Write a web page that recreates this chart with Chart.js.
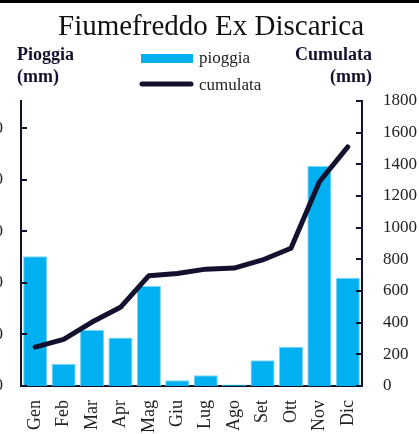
<!DOCTYPE html>
<html>
<head>
<meta charset="utf-8">
<script src="https://cdn.jsdelivr.net/npm/chart.js@4"></script>
<style>
  html, body { margin: 0; padding: 0; background: #fff; }
  #wrap { position: relative; width: 419px; height: 434px; overflow: hidden; }
  #wrap canvas { position: absolute; left: -40px; top: 0; }
  #topline { position: absolute; left: 0; top: 0; width: 419px; height: 3px; background: #000; }
</style>
</head>
<body>
<div id="wrap">
  <canvas id="chart" width="459" height="434"></canvas>
  <div id="topline"></div>
</div>
<script>
const mesi = ['Gen', 'Feb', 'Mar', 'Apr', 'Mag', 'Giu', 'Lug', 'Ago', 'Set', 'Ott', 'Nov', 'Dic'];
const pioggia = [252, 43, 109, 94, 194, 11, 21, 3, 50, 76, 427, 210];
const cumulata = [246, 295, 404, 497, 697, 710, 738, 745, 796, 870, 1290, 1510];
const pioggiaMax = 553, pioggiaStep = 100;
const cumulataMax = 1800, cumulataStep = 200;

const navy = '#14112e';
const blue = '#00b0f0';
const serif = '"Liberation Serif", "DejaVu Serif", serif';

// titles, legend and the small inward tick marks
const decor = {
  id: 'decor',
  afterDraw(chart) {
    const ctx = chart.ctx;
    ctx.save();
    ctx.fillStyle = '#111';
    ctx.textAlign = 'center';
    ctx.textBaseline = 'alphabetic';
    ctx.font = '29px ' + serif;
    ctx.fillText('Fiumefreddo Ex Discarica', 251, 35);

    ctx.fillStyle = navy;
    ctx.font = 'bold 18px ' + serif;
    ctx.textAlign = 'left';
    ctx.fillText('Pioggia', 57, 60);
    ctx.fillText('(mm)', 57, 82);
    ctx.textAlign = 'right';
    ctx.fillText('Cumulata', 412, 60);
    ctx.fillText('(mm)', 412, 82);

    // legend
    ctx.fillStyle = blue;
    ctx.fillRect(181, 54, 52, 9);
    ctx.strokeStyle = navy;
    ctx.lineWidth = 5;
    ctx.lineCap = 'round';
    ctx.beginPath();
    ctx.moveTo(182, 84);
    ctx.lineTo(231, 84);
    ctx.stroke();
    ctx.fillStyle = '#222';
    ctx.textAlign = 'left';
    ctx.font = '17px ' + serif;
    ctx.fillText('pioggia', 239, 63);
    ctx.fillText('cumulata', 239, 90);

    // inward ticks
    ctx.lineWidth = 2;
    ctx.lineCap = 'butt';
    const y = chart.scales.y, y1 = chart.scales.y1;
    y.ticks.forEach((t, i) => {
      const py = Math.round(y.getPixelForTick(i));
      ctx.beginPath();
      ctx.moveTo(y.right, py);
      ctx.lineTo(y.right + 6, py);
      ctx.stroke();
    });
    y1.ticks.forEach((t, i) => {
      const py = Math.round(y1.getPixelForTick(i));
      ctx.beginPath();
      ctx.moveTo(y1.left, py);
      ctx.lineTo(y1.left - 6, py);
      ctx.stroke();
    });
    ctx.restore();
  }
};

new Chart(document.getElementById('chart'), {
  data: {
    labels: mesi,
    datasets: [
      {
        type: 'line',
        label: 'cumulata',
        data: cumulata,
        yAxisID: 'y1',
        borderColor: navy,
        borderWidth: 5,
        borderCapStyle: 'round',
        borderJoinStyle: 'round',
        pointRadius: 0,
        tension: 0,
        order: 0,
      },
      {
        type: 'bar',
        label: 'pioggia',
        data: pioggia,
        yAxisID: 'y',
        backgroundColor: blue,
        borderColor: '#7fd5f5',
        borderWidth: 1,
        categoryPercentage: 1,
        barPercentage: 0.85,
        order: 1,
      },
    ],
  },
  options: {
    responsive: false,
    animation: false,
    layout: { padding: { top: 101, left: 0, right: 0, bottom: 0 } },
    plugins: { legend: { display: false }, tooltip: { enabled: false } },
    scales: {
      x: {
        grid: { display: false, drawTicks: false },
        border: { display: true, color: navy, width: 2 },
        ticks: {
          minRotation: 90, maxRotation: 90, autoSkip: false, padding: 14,
          color: '#222', font: { family: serif, size: 18 },
        },
        afterFit: s => { s.height = 48; },
      },
      y: {
        position: 'left',
        min: 0,
        max: pioggiaMax,
        grid: { display: false, drawTicks: false },
        border: { display: true, color: navy, width: 2 },
        ticks: {
          stepSize: pioggiaStep, padding: 18, color: '#222',
          font: { family: serif, size: 17 }, callback: v => String(v),
        },
        afterBuildTicks: s => { s.ticks = s.ticks.filter(t => t.value % pioggiaStep === 0); },
        afterFit: s => { s.width = 61; },
      },
      y1: {
        position: 'right',
        min: 0,
        max: cumulataMax,
        grid: { display: false, drawTicks: false },
        border: { display: true, color: navy, width: 2 },
        ticks: {
          stepSize: cumulataStep, padding: 21, color: '#222',
          font: { family: serif, size: 17 }, callback: v => String(v),
        },
        afterFit: s => { s.width = 57; },
      },
    },
  },
  plugins: [decor],
});
</script>
</body>
</html>
